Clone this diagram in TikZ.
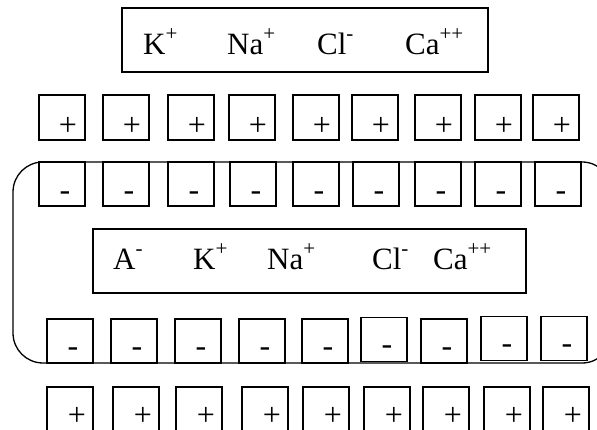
\documentclass[tikz,border=0pt]{standalone}
\usepackage{fontspec}
\setmainfont{Liberation Serif}
\usetikzlibrary{positioning}
\newcommand{\ionsup}[1]{\raisebox{14pt}{\fontsize{21}{21}\selectfont #1}}
\tikzset{
  ionbox/.style={draw, rectangle, line width=1.4pt, inner sep=0pt},
  membrane/.style={draw, rectangle, rounded corners=30pt, line width=1.3pt, inner sep=0pt},
  site/.style={draw, rectangle, line width=1.2pt, minimum width=46pt, minimum height=45pt, inner sep=0pt},
  sign/.style={inner sep=0pt, font=\fontsize{32}{32}\selectfont},
  ion/.style={anchor=base west, inner sep=0pt, font=\fontsize{31}{34}\selectfont}
}

\begin{document}
\begin{tikzpicture}[x=1pt,y=-1pt]
\useasboundingbox (0,0) rectangle (597,430);

% cell wall
\node[membrane, minimum width=599pt, minimum height=201pt] (cell) at (312.5,262.5) {};

% outside solution
\node[ionbox, minimum width=366pt, minimum height=64pt] (outside) at (305,40) {};
\node[ion] (ko) at (143,55) {K\ionsup{+}};
\node[ion] (nao) at (227,55) {Na\ionsup{+}};
\node[ion] (clo) at (317,55) {Cl\ionsup{-}};
\node[ion] (cao) at (405,55) {Ca\ionsup{++}};

% inside solution
\node[ionbox, minimum width=433pt, minimum height=64pt] (inside) at (309.5,261) {};
\node[ion] (ai) at (113,270) {A\ionsup{-}};
\node[ion] (ki) at (193,270) {K\ionsup{+}};
\node[ion] (nai) at (267,270) {Na\ionsup{+}};
\node[ion] (cli) at (372,270) {Cl\ionsup{-}};
\node[ion] (cai) at (433,270) {Ca\ionsup{++}};

% charges on the outer face
\foreach \x [count=\i] in {62,126,191,252,316,375,438,498,556}{
  \node[site] (p\i) at (\x,117.5) {};
  \node[sign] (ps\i) at ([xshift=6pt,yshift=-8.5pt]p\i.center) {+};
}
\foreach \x [count=\i] in {62,126,191,253,316,376,438,498,558}{
  \node[site, minimum height=44pt] (m\i) at (\x,184) {};
  \node[sign] (ms\i) at ([xshift=3pt,yshift=-12pt]m\i.center) {-};
}

% charges on the inner face
\foreach \x/\y [count=\i] in {70/341,134/341,198/341,262/341,325/341,384/339.5,444/341,504/338.5,564/338.5}{
  \node[site, minimum height=44pt] (n\i) at (\x,\y) {};
  \node[sign] (ns\i) at ([xshift=3pt,yshift=-11pt]n\i.center) {-};
}
\foreach \x [count=\i] in {70,136,199,265,326,387,446,507,566}{
  \node[site] (q\i) at (\x,409.5) {};
  \node[sign] (qs\i) at ([xshift=7pt,yshift=-6.5pt]q\i.center) {+};
}
\end{tikzpicture}
\end{document}
